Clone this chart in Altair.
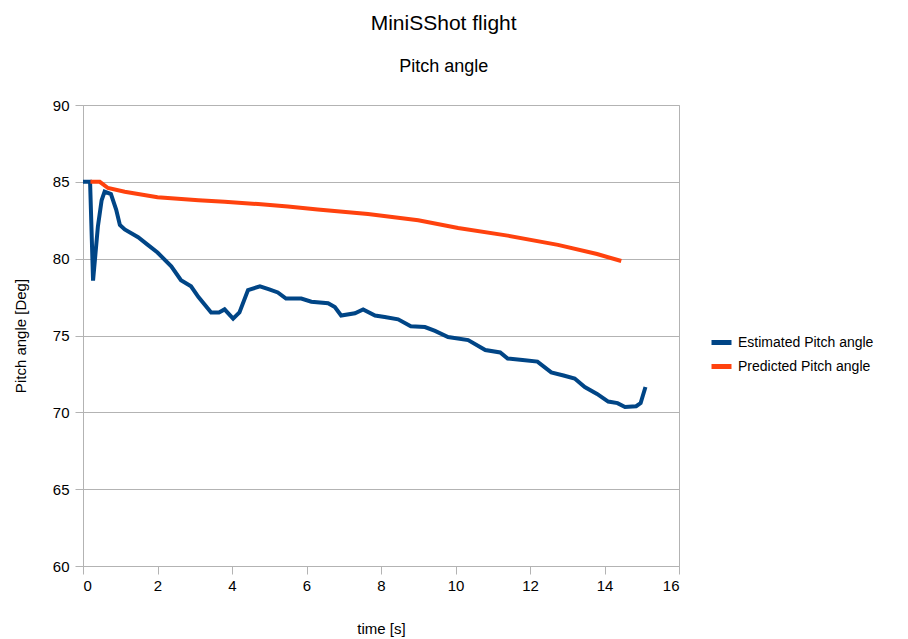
import altair as alt
import pandas as pd

est_t = [0, 0.19, 0.27, 0.4, 0.5, 0.58, 0.75, 0.89, 0.99, 1.12, 1.48, 1.74, 2.0, 2.37, 2.63, 2.9, 3.1,
         3.44, 3.65, 3.8, 4.03, 4.2, 4.43, 4.75, 5.0, 5.23, 5.45, 5.86, 6.13, 6.58, 6.76, 6.93,
         7.3, 7.52, 7.84, 8.1, 8.46, 8.8, 9.18, 9.45, 9.8, 10.34, 10.8, 11.2, 11.4, 11.8,
         12.2, 12.57, 12.9, 13.2, 13.47, 13.8, 14.1, 14.35, 14.55, 14.85, 14.97, 15.1]
est_v = [85, 85, 78.57, 82.1, 83.8, 84.36, 84.2, 83.2, 82.2, 81.9, 81.4, 80.9, 80.4, 79.5, 78.6, 78.2, 77.5,
         76.5, 76.5, 76.7, 76.1, 76.5, 77.96, 78.2, 78.0, 77.8, 77.4, 77.4, 77.2, 77.1, 76.85, 76.3,
         76.45, 76.7, 76.3, 76.2, 76.05, 75.6, 75.55, 75.3, 74.9, 74.7, 74.05, 73.9, 73.5, 73.4,
         73.3, 72.6, 72.4, 72.2, 71.65, 71.2, 70.7, 70.6, 70.35, 70.4, 70.6, 71.65]

pred_t = [0.2, 0.45, 0.67, 1.12, 2.0, 3.1, 3.8, 4.7, 5.5, 6.3, 7.65, 9.0, 10.07, 11.4, 12.75, 13.8, 14.45]
pred_v = [85, 85, 84.6, 84.35, 84.0, 83.8, 83.7, 83.55, 83.4, 83.2, 82.9, 82.5, 82.0, 81.5, 80.9, 80.3, 79.85]

series_names = ["Estimated Pitch angle", "Predicted Pitch angle"]
series_colors = ["#004586", "#ff420e"]

df = pd.concat([
    pd.DataFrame({"t": est_t, "v": est_v, "series": series_names[0]}),
    pd.DataFrame({"t": pred_t, "v": pred_v, "series": series_names[1]}),
])

font = "Liberation Sans"

chart = alt.Chart(df).mark_line(strokeWidth=4).encode(
    x=alt.X("t:Q", title="time [s]",
            scale=alt.Scale(domain=[0, 16], nice=False, zero=False),
            axis=alt.Axis(values=list(range(0, 17, 2)), grid=False, tickSize=8,
                          labelFontSize=15, titleFontSize=15, titlePadding=28,
                          labelPadding=4, domainColor="#b3b3b3", tickColor="#b3b3b3",
                          labelColor="#000", titleColor="#000", titleFontWeight="normal",
                          labelFont=font, titleFont=font)),
    y=alt.Y("v:Q", title="Pitch angle [Deg]",
            scale=alt.Scale(domain=[60, 90], nice=False, zero=False),
            axis=alt.Axis(values=list(range(60, 91, 5)), grid=True, gridColor="#b3b3b3",
                          tickSize=8, labelFontSize=15, titleFontSize=15, titlePadding=24,
                          labelPadding=6, domainColor="#b3b3b3", tickColor="#b3b3b3",
                          labelColor="#000", titleColor="#000", titleFontWeight="normal",
                          labelFont=font, titleFont=font)),
    color=alt.Color("series:N", sort=series_names,
                    scale=alt.Scale(domain=series_names, range=series_colors),
                    legend=alt.Legend(title=None, orient="none", legendX=626, legendY=225,
                                      symbolType="stroke", symbolStrokeWidth=5, symbolSize=400,
                                      labelFontSize=14, labelFont=font, labelColor="#000",
                                      rowPadding=1)),
    order=alt.Order("t:Q"),
).properties(
    width=596, height=461,
    title=alt.TitleParams(text="MiniSShot flight", subtitle="Pitch angle", fontSize=21,
                          subtitleFontSize=18, font=font, subtitleFont=font,
                          fontWeight="normal", anchor="middle", frame="bounds",
                          subtitlePadding=24, offset=22, color="#000", subtitleColor="#000"),
).configure_view(stroke="#b3b3b3")

chart.save("out.html", embed_options={"renderer": "svg", "actions": False})
